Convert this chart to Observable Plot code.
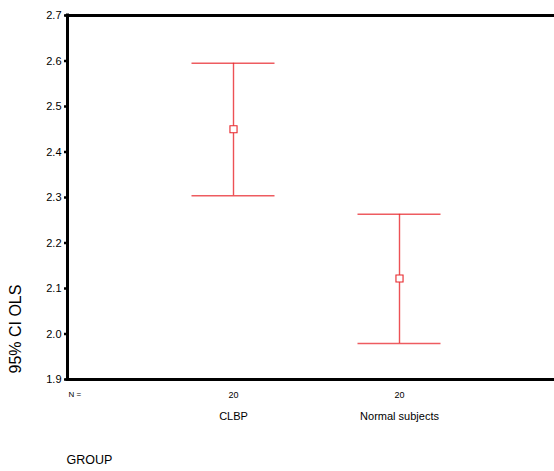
<!DOCTYPE html>
<html>
<head>
<meta charset="utf-8">
<script src="https://cdn.jsdelivr.net/npm/d3@7"></script>
<script src="https://cdn.jsdelivr.net/npm/@observablehq/plot@0.6"></script>
<style>
  html, body { margin: 0; padding: 0; background: #fff; overflow: hidden; }
  svg { overflow: hidden; }
</style>
</head>
<body>
<div id="chart"></div>
<script>
// Group means of OLS with their 95% confidence intervals
const groups = ["CLBP", "Normal subjects"];
const means = [2.45, 2.122];
const lower = [2.304, 1.979];
const upper = [2.595, 2.263];
const nCounts = [20, 20];
const yTicks = [1.9, 2.0, 2.1, 2.2, 2.3, 2.4, 2.5, 2.6, 2.7];

const rows = groups.map((g, i) => ({
  group: g, pos: i + 1, mean: means[i], lo: lower[i], hi: upper[i], n: nCounts[i]
}));

const red = "#e8262b";
const capHalf = 0.25;

const chart = Plot.plot({
  width: 554,
  height: 471,
  marginLeft: 67,
  marginTop: 15,
  marginBottom: 92,
  marginRight: 0,
  style: { fontFamily: "'Liberation Sans', Arial, sans-serif", color: "#000", background: "#fff" },
  x: { domain: [0, 3], range: [67, 565], axis: null },
  y: { domain: [1.9, 2.7], axis: null },
  marks: [
    // error bars
    Plot.ruleX(rows, { x: "pos", y1: "lo", y2: "hi", stroke: red, strokeOpacity: 0.8, strokeWidth: 1.4 }),
    Plot.ruleY(rows, { y: "hi", x1: d => d.pos - capHalf, x2: d => d.pos + capHalf, stroke: red, strokeOpacity: 0.75, strokeWidth: 1.5 }),
    Plot.ruleY(rows, { y: "lo", x1: d => d.pos - capHalf, x2: d => d.pos + capHalf, stroke: red, strokeOpacity: 0.75, strokeWidth: 1.5 }),
    Plot.dot(rows, { x: "pos", y: "mean", symbol: "square", r: 4, stroke: red, fill: "#fff", strokeWidth: 1.1 }),
    // frame
    Plot.ruleY([2.7, 1.9], { stroke: "#000", strokeWidth: 3, strokeLinecap: "square" }),
    Plot.ruleX([0], { stroke: "#000", strokeWidth: 3, strokeLinecap: "square" }),
    // y axis
    Plot.axisY({ ticks: yTicks, tickFormat: d3.format(".1f"), tickSize: 3, strokeWidth: 2.5, tickPadding: 3, fontSize: 11, label: null }),
    Plot.text(["95% CI OLS"], { frameAnchor: "bottom-left", rotate: -90, textAnchor: "start", dx: -47, dy: -6, fontSize: 16 }),
    // x axis: counts under each group
    Plot.axisX({ ticks: [1, 2], tickFormat: d => nCounts[d - 1], tickSize: 2, strokeWidth: 3, tickPadding: 10, fontSize: 9, label: null }),
    Plot.text(["N ="], { frameAnchor: "bottom-left", dx: 1, dy: 17, fontSize: 8 }),
    Plot.text(rows, { x: "pos", text: "group", frameAnchor: "bottom", dy: 40, fontSize: 11 }),
    Plot.text(["GROUP"], { frameAnchor: "bottom-left", textAnchor: "start", dx: -1, dy: 84, fontSize: 12.5 })
  ]
});

document.getElementById("chart").append(chart);
</script>
</body>
</html>
